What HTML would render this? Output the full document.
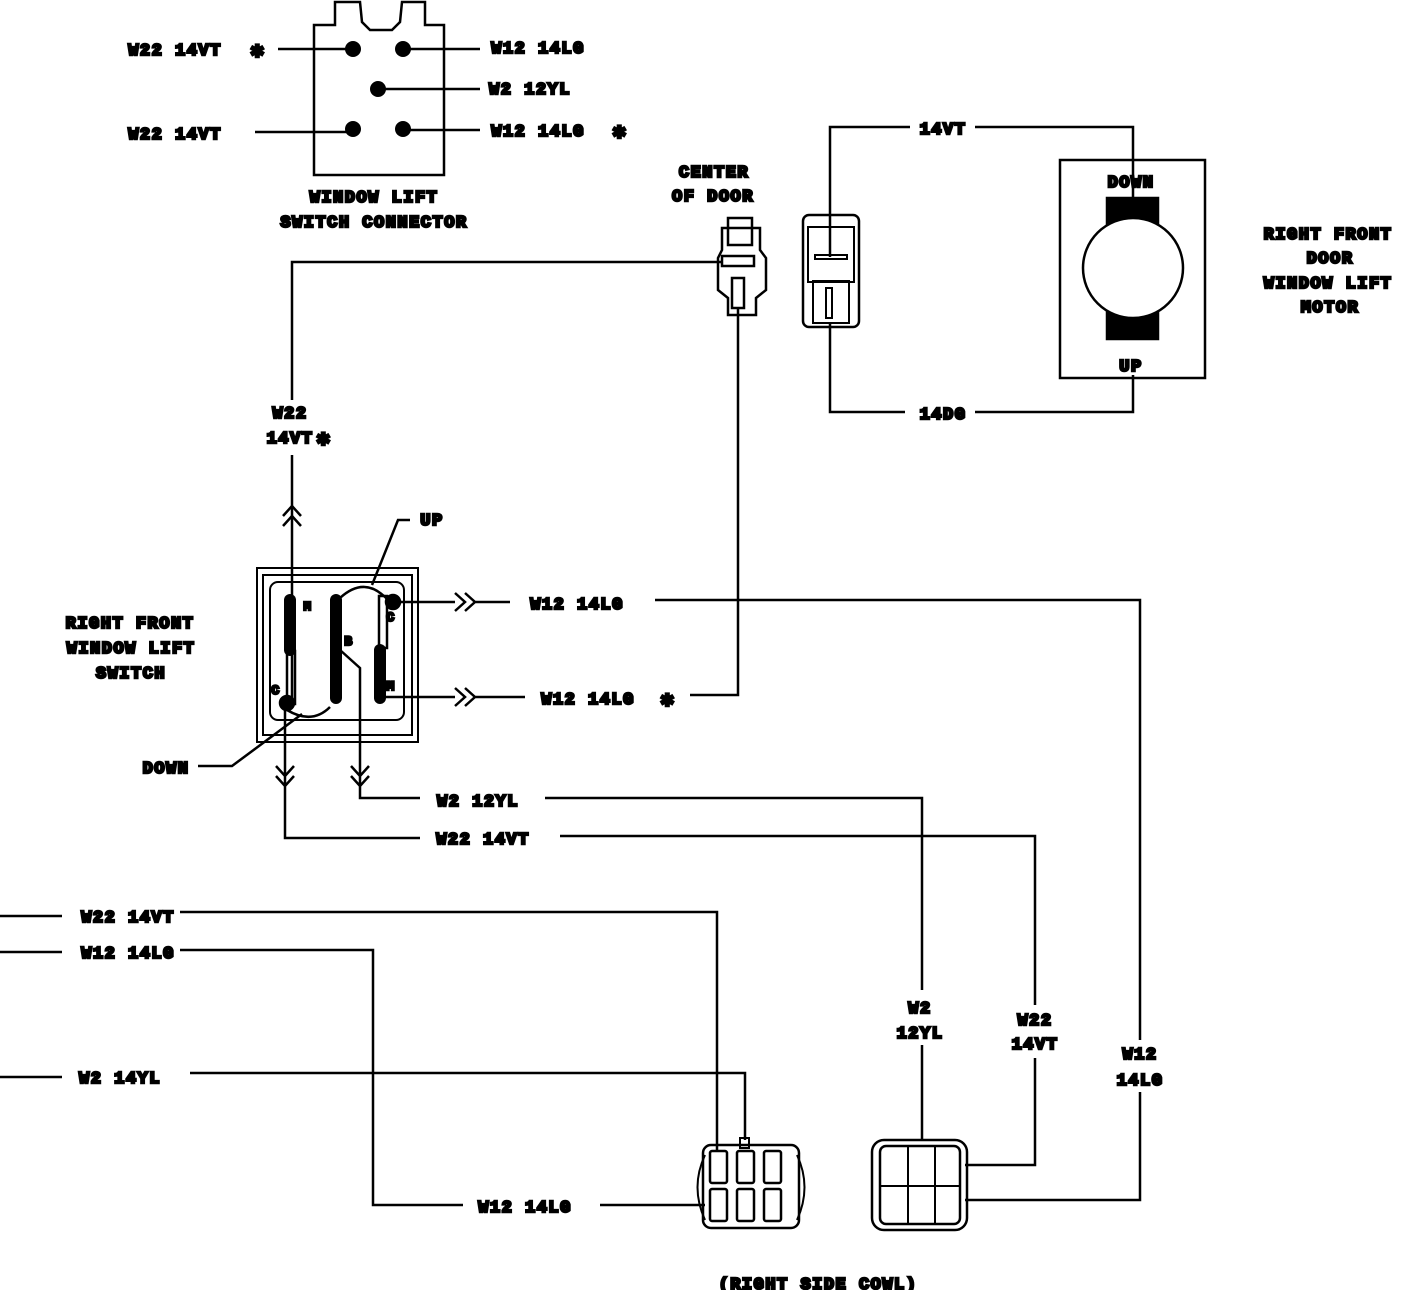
<!DOCTYPE html>
<html><head><meta charset="utf-8"><style>
html,body{margin:0;padding:0;background:#fff}
svg{display:block}
text{font-family:"Liberation Mono",monospace;font-weight:bold;font-size:17px;fill:#000;text-anchor:middle;letter-spacing:1.5px}
text.a{font-size:22px}
</style></head><body>
<svg width="1408" height="1290" viewBox="0 0 1408 1290" xmlns="http://www.w3.org/2000/svg" fill="none" stroke="#000" stroke-width="2.5">
<polygon points="314,175 314,25 335,25 335,2 360,2 362,22 370,30 392,30 400,22 402,2 425,2 425,25 444,25 444,175" stroke-width="2.5"/>
<g fill="#000" stroke="none">
<circle cx="353" cy="49" r="8"/><circle cx="403" cy="49" r="8"/><circle cx="378" cy="89" r="8"/><circle cx="353" cy="129" r="8"/><circle cx="403" cy="129" r="8"/>
</g>
<path d="M278 49H353M403 49H480M378 89H480M255 132H353M403 130H480"/>
<text x="175" y="55">W22 14VT</text><text class="a" x="258" y="57">✱</text>
<text x="538" y="53">W12 14LG</text>
<text x="530" y="94">W2 12YL</text>
<text x="175" y="139">W22 14VT</text>
<text x="538" y="136">W12 14LG</text><text class="a" x="620" y="138">✱</text>
<text x="374" y="202">WINDOW LIFT</text>
<text x="374" y="227">SWITCH CONNECTOR</text>

<text x="714" y="177">CENTER</text><text x="713" y="201">OF DOOR</text>
<path d="M728 218H752V245H728Z"/>
<path d="M722 228H760V250L766 258V290L756 298V315H728V298L718 290V258L722 250Z"/>
<rect x="722" y="256" width="32" height="10"/>
<rect x="732" y="278" width="12" height="30"/>
<path d="M722 262H292V400M292 455V703"/>
<text x="290" y="418">W22</text><text x="290" y="443">14VT</text><text class="a" x="324" y="445">✱</text>
<path d="M738 308V695H690"/>
<text class="a" x="668" y="706">✱</text>
<text x="588" y="704">W12 14LG</text>

<rect x="803" y="215" width="56" height="112" rx="6"/>
<rect x="808" y="227" width="46" height="55" stroke-width="2"/>
<rect x="813" y="281" width="36" height="42" stroke-width="2"/>
<rect x="815" y="255" width="32" height="4" stroke-width="2"/>
<rect x="826" y="288" width="6" height="30" stroke-width="2"/>
<path d="M830 257V127H910M975 127H1133V198"/>
<text x="943" y="134">14VT</text>
<path d="M830 322V412H905M975 412H1133V375"/>
<text x="943" y="419">14DG</text>

<rect x="1060" y="160" width="145" height="218"/>
<rect x="1107" y="198" width="51" height="27" fill="#000"/>
<rect x="1107" y="312" width="51" height="27" fill="#000"/>
<circle cx="1133" cy="268" r="50" fill="#fff"/>
<text x="1131" y="187">DOWN</text><text x="1131" y="371">UP</text>
<text x="1328" y="239">RIGHT FRONT</text><text x="1330" y="263">DOOR</text><text x="1328" y="288">WINDOW LIFT</text><text x="1330" y="312">MOTOR</text>

<rect x="257" y="568" width="161" height="174" stroke-width="2"/>
<rect x="263" y="575" width="149" height="160" stroke-width="2"/>
<rect x="270" y="582" width="134" height="138" rx="8" stroke-width="2"/>
<path d="M283 516L292 506L301 516M283 526L292 516L301 526"/>
<path d="M290 600V650" stroke-width="12" stroke-linecap="round"/>
<rect x="287" y="651" width="8" height="53"/>
<path d="M336 600V698" stroke-width="12" stroke-linecap="round"/>
<path d="M380 650V698" stroke-width="12" stroke-linecap="round"/>
<rect x="379" y="596" width="8" height="52"/>
<circle cx="287" cy="703" r="7" fill="#000"/>
<circle cx="393" cy="602" r="7" fill="#000"/>
<path d="M340 598Q365 575 388 600"/>
<path d="M372 585L398 520H410"/>
<text x="432" y="525">UP</text>
<path d="M287 710Q312 725 330 707"/>
<path d="M302 714L232 766H198"/>
<text x="166" y="773">DOWN</text>
<text x="308" y="610" style="font-size:12px">M</text>
<text x="349" y="645" style="font-size:13px">B</text>
<text x="391" y="621" style="font-size:13px">C</text>
<text x="276" y="694" style="font-size:13px">C</text>
<text x="391" y="690" style="font-size:13px">M</text>
<text x="130" y="628">RIGHT FRONT</text><text x="131" y="653">WINDOW LIFT</text><text x="131" y="678">SWITCH</text>

<path d="M393 602H455M455 593L465 602L455 611M465 593L475 602L465 611M475 602H510"/>
<text x="577" y="609">W12 14LG</text>
<path d="M655 600H1140V1040M1140 1092V1200H965"/>
<text x="1140" y="1059">W12</text><text x="1140" y="1085">14LG</text>
<path d="M384 697H455M455 688L465 697L455 706M465 688L475 697L465 706M475 697H525"/>

<path d="M340 650L360 668V798H420M351 766L360 776L369 766M351 776L360 786L369 776"/>
<text x="478" y="806">W2 12YL</text>
<path d="M545 798H922V990M922 1045V1140"/>
<text x="920" y="1013">W2</text><text x="920" y="1038">12YL</text>
<path d="M285 703V838H420M276 766L285 776L294 766M276 776L285 786L294 776"/>
<text x="483" y="844">W22 14VT</text>
<path d="M560 836H1035V1005M1035 1058V1165H965"/>
<text x="1035" y="1025">W22</text><text x="1035" y="1049">14VT</text>

<path d="M0 916H62M180 912H717V1150"/>
<text x="128" y="922">W22 14VT</text>
<path d="M0 952H62M180 950H373V1205H463M600 1205H705"/>
<text x="128" y="958">W12 14LG</text>
<text x="525" y="1212">W12 14LG</text>
<path d="M0 1077H62M190 1073H745V1140"/>
<text x="120" y="1083">W2 14YL</text>
<rect x="740" y="1138" width="9" height="10" stroke-width="2"/>

<path d="M705 1155Q690 1187 705 1220M797 1155Q812 1187 797 1220" stroke-width="2"/>
<rect x="703" y="1145" width="96" height="83" rx="8"/>
<g>
<rect x="710" y="1151" width="17" height="32" rx="2"/><rect x="737" y="1151" width="17" height="32" rx="2"/><rect x="764" y="1151" width="17" height="32" rx="2"/>
<rect x="710" y="1189" width="17" height="32" rx="2"/><rect x="737" y="1189" width="17" height="32" rx="2"/><rect x="764" y="1189" width="17" height="32" rx="2"/>
</g>
<rect x="872" y="1140" width="95" height="90" rx="12"/>
<rect x="880" y="1146" width="80" height="78" rx="6"/>
<path d="M908 1146V1224M935 1146V1224M880 1186H960" stroke-width="2"/>
<text x="818" y="1289">(RIGHT SIDE COWL)</text>
</svg>
</body></html>
